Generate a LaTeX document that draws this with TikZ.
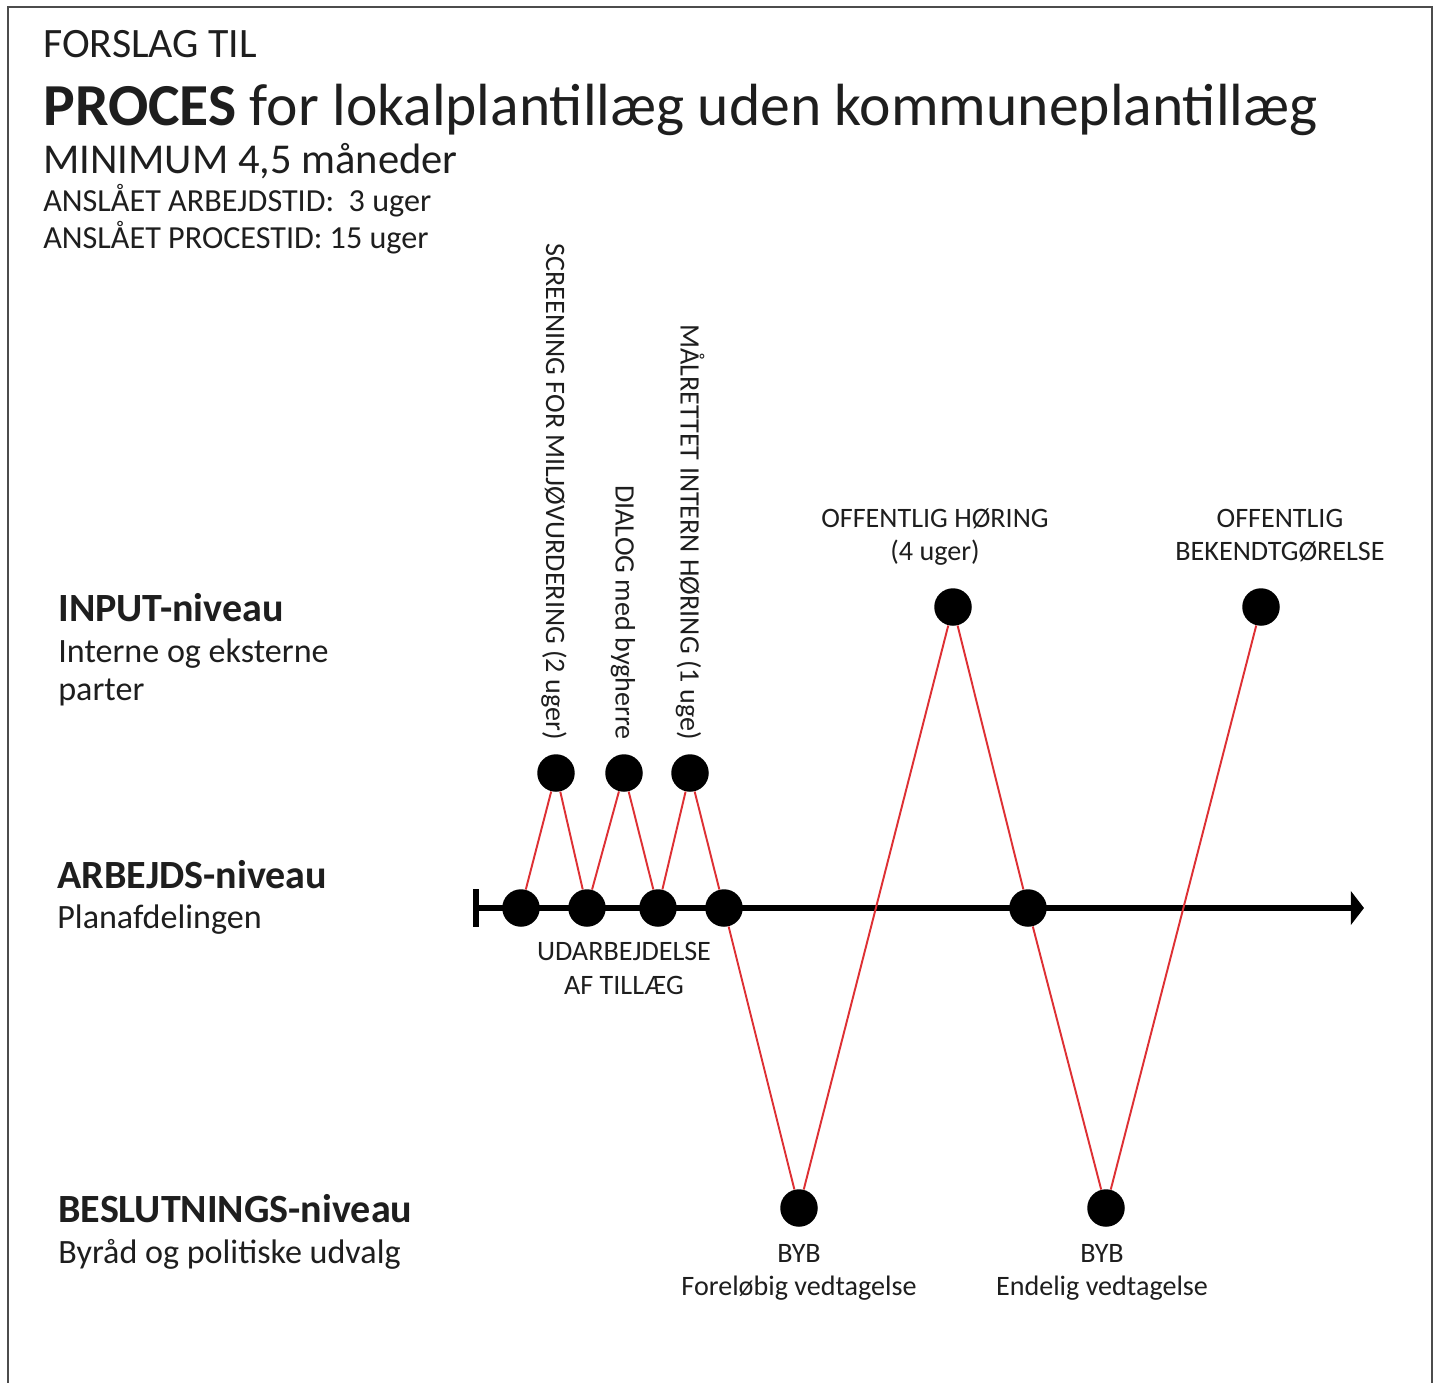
\documentclass[tikz,border=0pt]{standalone}
\usepackage{fontspec}
\setmainfont{Carlito}
\usetikzlibrary{arrows.meta}

\definecolor{ink}{RGB}{30,30,30}
\definecolor{zigzag}{RGB}{222,48,52}

\tikzstyle{dot} = [circle, fill=black, inner sep=0pt, minimum size=0.75cm]
\tikzstyle{redline} = [draw, zigzag, line width=1.1pt]
\tikzstyle{axis} = [draw, line width=3.8pt, -{Triangle[length=7.5pt,width=19pt]}]
\tikzstyle{lbl} = [inner sep=0pt, text=ink, font=\fontsize{16}{19}\selectfont]
\tikzstyle{level} = [inner sep=0pt, anchor=base west, text=ink, font=\fontsize{22.8}{27}\selectfont\bfseries]
\tikzstyle{sublevel} = [inner sep=0pt, anchor=base west, text=ink, font=\fontsize{19.4}{23}\selectfont]

\begin{document}
\begin{tikzpicture}[x=0.02cm, y=-0.02cm]
	\useasboundingbox (0,0) rectangle (1438,1383);
	\fill[white] (0,0) rectangle (1438,1383);
	\draw[line width=1.2pt, black!70] (8,1383) -- (8,7) -- (1432,7) -- (1432,1383);

	% Heading
	\node at (43,57) [inner sep=0pt, anchor=base west, text=ink, font=\fontsize{23.8}{28}\selectfont] (pre) {FORSLAG TIL};
	\node at (43,125) [inner sep=0pt, anchor=base west, text=ink, font=\fontsize{33.9}{40}\selectfont] (title) {\textbf{PROCES} for lokalplantillæg uden kommuneplantillæg};
	\node at (43,173) [inner sep=0pt, anchor=base west, text=ink, font=\fontsize{24.2}{28}\selectfont] (minimum) {MINIMUM 4,5 måneder};
	\node at (43,211) [inner sep=0pt, anchor=base west, text=ink, font=\fontsize{18.3}{22}\selectfont] (worktime) {ANSLÅET ARBEJDSTID:\ \ 3 uger};
	\node at (43,248) [inner sep=0pt, anchor=base west, text=ink, font=\fontsize{18.3}{22}\selectfont] (proctime) {ANSLÅET PROCESTID: 15 uger};

	% Levels
	\node at (58,621) [level] (input) {INPUT-niveau};
	\node at (58,662) [sublevel] (input1) {Interne og eksterne};
	\node at (58,700) [sublevel] (input2) {parter};
	\node at (57,888) [level] (work) {ARBEJDS-niveau};
	\node at (57,928) [sublevel] (work1) {Planafdelingen};
	\node at (58,1222) [level] (decision) {BESLUTNINGS-niveau};
	\node at (58,1263) [sublevel] (decision1) {Byråd og politiske udvalg};

	% Timeline
	\coordinate (start) at (476,908);
	\coordinate (end) at (1364,908);
	\draw[line width=3.4pt] (476,889) -- (476,927);
	\path[axis] (start) -- (end);

	\node at (521,908) [dot] (a1) {};
	\node at (587,908) [dot] (a2) {};
	\node at (658,908) [dot] (a3) {};
	\node at (724,908) [dot] (a4) {};
	\node at (1028,908) [dot] (a5) {};

	\node at (556,773) [dot] (i1) {};
	\node at (624,773) [dot] (i2) {};
	\node at (690,773) [dot] (i3) {};
	\node at (953,607) [dot] (i4) {};
	\node at (1261,607) [dot] (i5) {};

	\node at (799,1208) [dot] (d1) {};
	\node at (1106,1208) [dot] (d2) {};

	\path[redline] (a1) -- (i1) -- (a2) -- (i2) -- (a3) -- (i3) -- (a4) -- (d1) -- (i4) -- (a5) -- (d2) -- (i5);

	% Input labels
	\node at (554,740) [lbl, rotate=-90, anchor=east] (screening) {SCREENING FOR MILJØVURDERING (2 uger)};
	\node at (623,740) [lbl, rotate=-90, anchor=east] (dialog) {DIALOG med bygherre};
	\node at (690,740) [lbl, rotate=-90, anchor=east] (internal) {MÅLRETTET INTERN HØRING (1 uge)};
	\node at (935,527) [lbl, anchor=base] (hearing) {OFFENTLIG HØRING};
	\node at (935,560) [lbl, anchor=base] (hearing1) {(4 uger)};
	\node at (1280,527) [lbl, anchor=base] (notice) {OFFENTLIG};
	\node at (1280,560) [lbl, anchor=base] (notice1) {BEKENDTGØRELSE};

	% Work and decision labels
	\node at (624,960) [lbl, anchor=base] (draft) {UDARBEJDELSE};
	\node at (624,994) [lbl, anchor=base] (draft1) {AF TILLÆG};
	\node at (799,1262) [lbl, anchor=base] (byb1) {BYB};
	\node at (799,1295) [lbl, anchor=base] (prelim) {Foreløbig vedtagelse};
	\node at (1102,1262) [lbl, anchor=base] (byb2) {BYB};
	\node at (1102,1295) [lbl, anchor=base] (final) {Endelig vedtagelse};

\end{tikzpicture}
\end{document}
